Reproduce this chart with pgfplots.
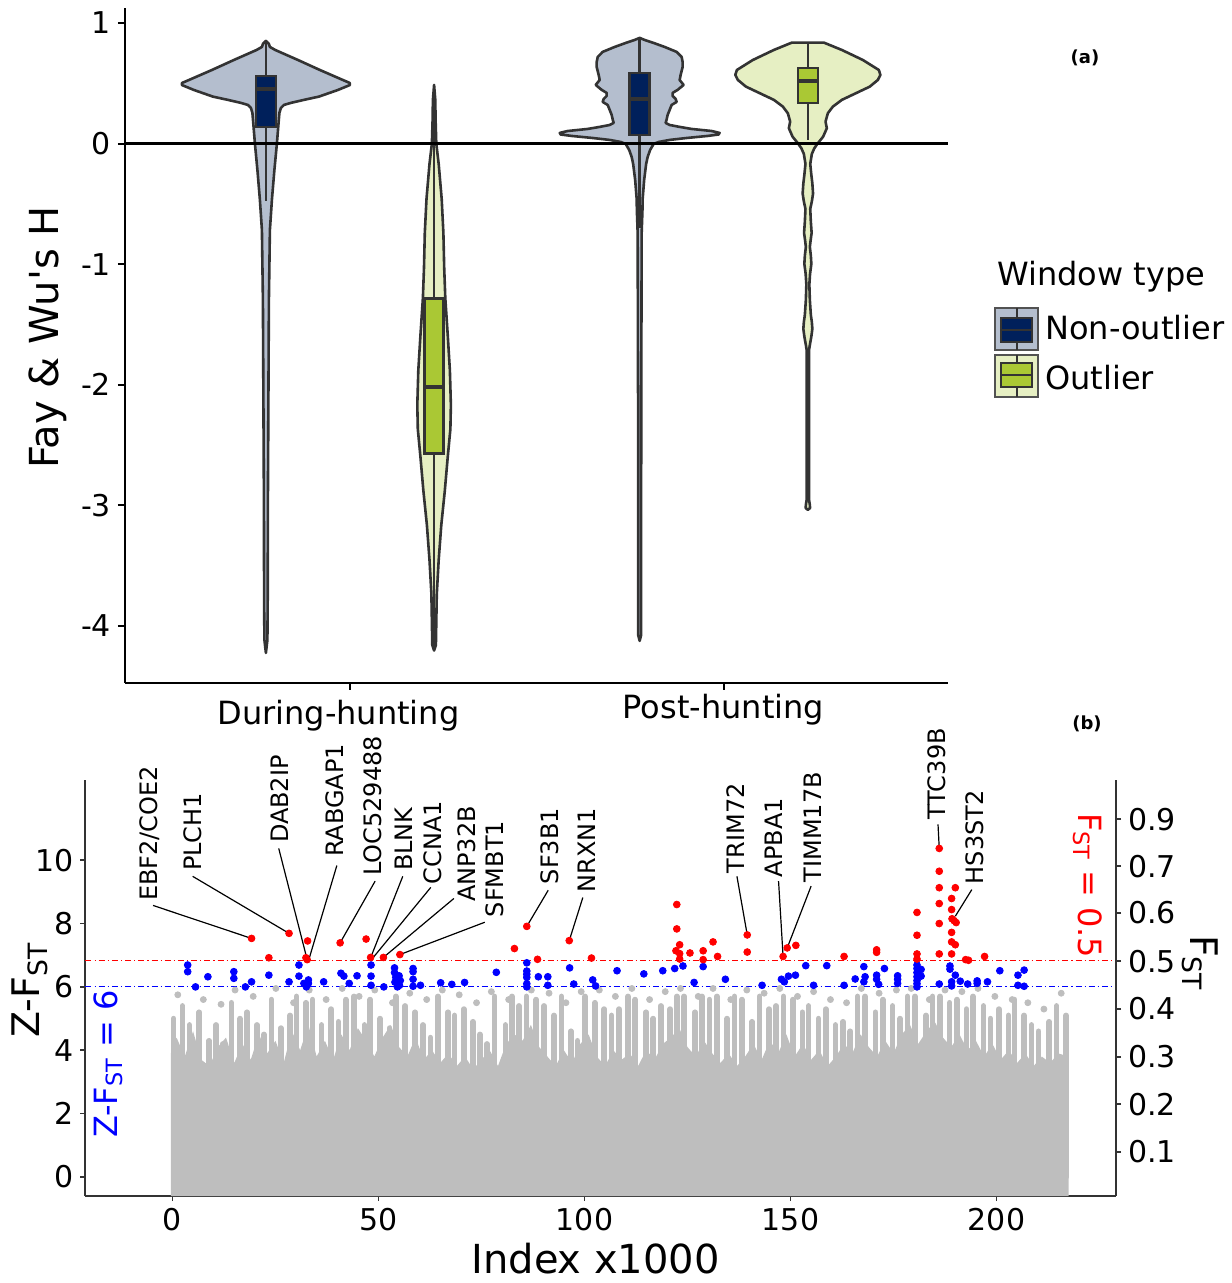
\documentclass[border=0pt]{standalone}
\usepackage{fontspec}
\setmainfont{DejaVu Sans}
\usepackage{pgfplots}
\usepackage{pgfplotstable}
\pgfplotsset{compat=1.18}
\definecolor{vN}{RGB}{180,190,206}
\definecolor{bN}{RGB}{0,32,91}
\definecolor{vO}{RGB}{230,239,195}
\definecolor{bO}{RGB}{170,200,52}
\definecolor{ol}{RGB}{51,51,51}
\definecolor{gr}{RGB}{190,190,190}
\newcommand{\tfont}{\fontsize{15}{18}\selectfont}
\newcommand{\gfont}{\fontsize{12}{14}\selectfont}

% violin outlines: y (data), w (half width in px, signed)
\pgfplotstableread{
y w
-4.224 0
-4.116 1.5
-3.785 1.8
-2.956 2
-2.127 2.5
-1.298 3
-0.716 4
-0.468 6
-0.219 8.5
0.000 11
0.154 12.5
0.254 13.5
0.295 15
0.320 18
0.337 25
0.362 38
0.389 53
0.444 72
0.485 84
0.502 84
0.527 77
0.610 54
0.693 32
0.776 9.3
0.801 4
0.826 3
0.851 0
0.826 -3
0.801 -4
0.776 -9.3
0.693 -32
0.610 -54
0.527 -77
0.502 -84
0.485 -84
0.444 -72
0.389 -53
0.362 -38
0.337 -25
0.320 -18
0.295 -15
0.254 -13.5
0.154 -12.5
0.000 -11
-0.219 -8.5
-0.468 -6
-0.716 -4
-1.298 -3
-2.127 -2.5
-2.956 -2
-3.785 -1.8
-4.116 -1.5
}\vA
\pgfplotstableread{
y w
-4.204 0
-4.158 1.8
-4.017 2.1
-3.735 2.7
-3.453 4.6
-3.163 7.2
-2.881 10.7
-2.595 13.7
-2.367 16.3
-2.168 16.8
-1.881 15.8
-1.595 13.7
-1.280 11.2
-1.027 10.1
-0.741 9.3
-0.459 7.6
-0.169 4.6
0.000 2.2
0.196 1.5
0.361 1.2
0.486 0
0.361 -1.2
0.196 -1.5
0.000 -2.2
-0.169 -4.6
-0.459 -7.6
-0.741 -9.3
-1.027 -10.1
-1.280 -11.2
-1.595 -13.7
-1.881 -15.8
-2.168 -16.8
-2.367 -16.3
-2.595 -13.7
-2.881 -10.7
-3.163 -7.2
-3.453 -4.6
-3.735 -2.7
-4.017 -2.1
-4.158 -1.8
}\vB
\pgfplotstableread{
y w
-4.124 0
-4.075 1.5
-2.956 1.5
-2.127 1.6
-0.741 2
-0.551 2.8
-0.459 3
-0.302 4.5
-0.169 6.5
-0.111 8
-0.053 10.5
-0.003 14
0.013 19
0.030 30
0.046 47
0.063 68
0.075 79
0.088 80
0.104 72
0.121 52
0.138 40
0.154 30
0.171 26
0.200 27
0.237 28
0.279 30
0.320 32
0.345 37
0.370 36
0.395 33
0.420 33
0.445 38
0.486 44
0.527 40
0.569 41
0.635 43
0.676 43
0.718 42
0.760 37
0.801 25
0.834 14
0.859 5
0.876 0
0.859 -5
0.834 -14
0.801 -25
0.760 -37
0.718 -42
0.676 -43
0.635 -43
0.569 -41
0.527 -40
0.486 -44
0.445 -38
0.420 -33
0.395 -33
0.370 -36
0.345 -37
0.320 -32
0.279 -30
0.237 -28
0.200 -27
0.171 -26
0.154 -30
0.138 -40
0.121 -52
0.104 -72
0.088 -80
0.075 -79
0.063 -68
0.046 -47
0.030 -30
0.013 -19
-0.003 -14
-0.053 -10.5
-0.111 -8
-0.169 -6.5
-0.302 -4.5
-0.459 -3
-0.551 -2.8
-0.741 -2
-2.127 -1.6
-2.956 -1.5
-4.075 -1.5
}\vC
\pgfplotstableread{
y w
-3.038 0
-3.022 2.2
-2.997 2
-2.955 1.2
-1.711 1.2
-1.670 2
-1.600 3.5
-1.537 4.5
-1.480 4
-1.421 3
-1.297 2
-1.169 1.5
-1.080 2.2
-0.998 3.5
-0.930 3
-0.857 2
-0.800 2.8
-0.741 3.8
-0.650 3
-0.542 2.4
-0.480 4
-0.415 5.2
-0.330 4.5
-0.260 3.5
-0.169 2.4
-0.086 4
-0.039 6.5
-0.003 9.5
0.057 15.3
0.127 19
0.182 17.7
0.251 20
0.306 25
0.362 34
0.417 48
0.472 62
0.527 70
0.569 72.6
0.610 71
0.693 55
0.776 34
0.837 16
0.837 -16
0.776 -34
0.693 -55
0.610 -71
0.569 -72.6
0.527 -70
0.472 -62
0.417 -48
0.362 -34
0.306 -25
0.251 -20
0.182 -17.7
0.127 -19
0.057 -15.3
-0.003 -9.5
-0.039 -6.5
-0.086 -4
-0.169 -2.4
-0.260 -3.5
-0.330 -4.5
-0.415 -5.2
-0.480 -4
-0.542 -2.4
-0.650 -3
-0.741 -3.8
-0.800 -2.8
-0.857 -2
-0.930 -3
-0.998 -3.5
-1.080 -2.2
-1.169 -1.5
-1.297 -2
-1.421 -3
-1.480 -4
-1.537 -4.5
-1.600 -3.5
-1.670 -2
-1.711 -1.2
-2.955 -1.2
-2.997 -2
-3.022 -2.2
}\vD

% panel b data
\pgfplotstableread{
x z
-0.4 -0.6
-0.4 3.9
1 4.4
3 3.8
5 4.6
7 3.7
9 3.5
11 4.1
13 4.4
15 3.6
17 4.2
19 3.7
21 4.5
23 3.9
25 4.3
27 3.6
29 4.6
31 4.0
33 4.8
35 3.8
37 4.3
39 3.7
41 4.5
43 4.0
45 4.7
47 4.3
49 3.8
51 4.4
53 4.8
55 4.1
57 3.8
59 4.4
61 3.7
63 4.0
65 3.6
67 3.9
69 3.5
71 3.8
73 3.4
75 3.7
77 4.0
79 3.5
81 4.2
83 4.5
85 4.3
87 4.8
89 4.1
91 3.8
93 3.5
95 4.0
97 3.6
99 4.2
101 4.5
103 3.8
105 3.5
107 4.0
109 3.7
111 3.9
113 3.5
115 4.0
117 3.7
119 4.2
121 4.4
123 4.7
125 4.1
127 3.8
129 4.3
131 3.9
133 3.6
135 3.9
137 3.5
139 3.8
141 4.2
143 3.7
145 4.3
147 3.9
149 4.5
151 3.8
153 4.2
155 3.7
157 4.0
159 3.5
161 3.8
163 4.2
165 3.9
167 4.5
169 4.1
171 3.8
173 4.3
175 3.9
177 4.5
179 4.8
181 4.2
183 4.6
185 4.9
187 4.4
189 4.1
191 4.5
193 4.0
195 4.3
197 3.8
199 4.2
201 3.7
203 4.0
205 3.6
207 3.9
209 3.5
211 3.8
213 3.6
215 3.9
217.5 3.8
217.5 -0.6
}\solid
\pgfplotstableread{
x z
0.3 5.0
2.4 5.4
4.1 4.8
6.5 5.2
8.9 4.3
10.6 4.8
12.2 4.2
14.3 5.5
16.4 5.0
18.1 5.2
20.5 4.8
22.2 4.5
24.0 5.6
26.3 4.7
28.6 5.1
30.1 5.7
32.4 5.5
34.0 5.6
36.2 4.8
38.5 5.3
40.3 4.9
42.1 5.6
44.0 5.7
46.6 4.8
48.0 5.6
50.4 5.0
52.7 4.7
54.2 5.7
56.5 5.4
58.9 5.2
60.8 4.8
62.6 4.4
64.4 5.7
66.9 5.2
68.5 5.1
70.7 5.3
72.9 4.9
74.6 4.5
76.3 4.2
78.2 5.7
80.8 4.8
82.4 5.7
84.1 5.4
85.9 5.7
88.3 5.6
90.2 5.4
92.6 5.1
94.4 5.7
96.7 4.6
98.3 4.3
100.1 5.7
102.5 5.5
104.8 5.3
106.6 5.1
108.4 5.3
110.6 5.7
112.3 5.6
114.9 5.2
116.7 5.0
118.5 5.4
120.8 5.3
122.4 5.7
124.2 5.7
126.8 5.2
128.5 5.7
130.3 5.6
132.1 5.7
134.6 5.0
136.4 5.7
138.2 5.6
140.7 4.9
142.5 5.7
144.8 5.3
146.5 5.4
148.3 5.7
150.6 5.6
152.9 5.2
154.4 5.4
156.8 5.0
158.6 5.3
160.9 4.8
162.7 4.9
164.5 4.6
166.3 5.7
168.1 5.7
170.6 5.2
172.4 5.6
174.8 5.4
176.6 5.0
178.4 5.7
180.2 5.7
182.9 5.1
184.5 5.7
186.3 5.7
188.6 5.5
190.4 5.6
192.7 5.3
194.3 5.7
196.8 5.4
198.5 5.0
200.6 5.3
202.9 5.1
204.4 5.6
206.7 5.1
208.5 4.8
210.2 4.6
212.8 4.9
214.6 5.4
216.9 5.1
}\cols
\pgfplotstableread{
x z
1.3 5.75
7.5 5.60
11.8 5.45
15.2 5.90
19.6 5.70
25.1 5.95
29.4 5.50
33.2 5.90
37.3 5.60
41.2 5.95
45.3 5.70
49.1 5.90
53.4 5.50
57.6 5.80
61.7 5.60
65.5 5.90
69.6 5.75
73.8 5.50
77.4 5.85
81.6 5.60
87.1 5.90
91.4 5.80
95.5 5.50
99.2 5.85
103.6 5.90
107.5 5.70
111.5 5.95
115.8 5.60
119.6 5.85
123.3 5.95
127.6 5.70
131.2 5.95
135.5 5.60
139.4 5.90
143.6 5.80
147.4 5.95
151.7 5.70
155.6 5.85
159.7 5.60
163.6 5.50
167.2 5.95
171.5 5.80
175.7 5.90
179.3 5.95
183.7 5.60
187.5 5.90
191.6 5.85
195.5 5.95
199.6 5.70
203.8 5.60
207.6 5.50
211.5 5.30
215.7 5.80
}\gdots
\pgfplotstableread{
x z
3.7 6.69
3.7 6.48
5.6 6.00
8.6 6.32
14.9 6.48
14.9 6.27
17.7 6.00
19.2 6.16
23.4 6.37
28.3 6.16
30.7 6.69
30.7 6.34
31.9 6.11
32.5 6.00
33.0 6.22
33.0 6.11
36.7 6.16
40.9 6.43
41.6 6.34
42.9 6.11
44.8 6.35
48.2 6.69
48.2 6.34
48.2 6.05
51.3 6.00
53.9 6.60
53.9 6.45
54.2 6.30
54.5 6.20
54.8 6.10
55.1 6.05
55.3 6.20
54.6 6.00
55.0 6.35
54.0 6.15
58.4 6.58
58.4 6.48
58.4 6.24
58.4 6.02
60.2 6.05
65.1 6.13
67.8 6.08
70.9 6.14
78.6 6.46
86.0 6.76
86.0 6.50
86.0 6.40
86.0 6.30
86.0 6.10
86.0 6.00
88.8 6.32
91.1 6.32
91.1 6.05
96.4 6.60
97.4 6.09
102.0 6.22
102.7 6.03
107.9 6.51
114.4 6.41
119.0 6.51
121.9 6.58
123.9 6.66
126.6 6.14
128.8 6.64
134.2 6.24
143.1 6.05
147.8 6.24
148.5 6.16
149.5 6.34
151.2 6.37
153.7 6.67
155.6 6.05
158.8 6.67
163.0 6.05
165.7 6.25
167.8 6.64
167.8 6.16
168.1 6.32
170.9 6.37
170.9 6.24
171.4 6.08
172.8 6.58
176.0 6.35
176.0 6.24
176.0 6.11
180.7 6.69
180.7 6.58
180.7 6.45
180.7 6.32
180.7 6.20
180.7 6.10
180.7 6.00
181.7 6.55
181.7 6.34
186.1 6.09
188.7 6.66
188.7 6.56
189.1 6.16
189.1 6.03
190.0 6.37
191.2 6.18
193.0 6.09
195.3 6.19
195.3 6.11
197.8 6.16
200.8 6.51
205.2 6.37
205.2 6.05
206.7 6.53
206.7 6.02
}\blue
\pgfplotstableread{
x z
19.2 7.53
28.3 7.69
32.8 7.45
23.4 6.92
32.7 6.86
32.4 6.92
40.7 7.39
47.0 7.51
48.1 6.93
51.2 6.93
55.2 7.02
83.0 7.21
86.0 7.91
88.6 6.87
96.3 7.46
101.7 6.91
122.4 8.60
122.4 7.83
123.1 7.33
122.2 7.14
123.1 7.05
123.1 6.88
125.6 7.07
128.8 7.14
128.8 6.86
131.2 7.42
132.3 6.96
139.5 7.64
139.5 7.10
148.2 6.96
149.2 7.23
151.3 7.31
163.0 6.96
170.9 7.17
170.9 7.09
180.7 8.35
180.7 7.63
180.7 7.04
180.7 6.88
186.1 10.37
186.1 9.65
186.1 9.13
186.1 8.63
186.1 8.00
186.1 7.04
190.0 9.13
189.1 8.79
189.1 8.44
189.2 8.15
189.7 8.09
190.2 8.03
189.1 7.72
189.1 7.42
190.0 7.33
189.1 7.04
192.5 6.86
193.2 6.84
197.1 6.96
}\red

\begin{document}
\begin{tikzpicture}
\path[use as bounding box] (0,0) rectangle (615.5pt,641.5pt);

%================ panel (a)
\begin{axis}[
  at={(62.5pt,300pt)}, anchor=south west, scale only axis,
  width=411.5pt, height=337.5pt,
  xmin=0.398, xmax=2.6, ymin=-4.473, ymax=1.124,
  axis x line*=bottom, axis y line*=left,
  axis line style={-, black, line width=1.2pt},
  xtick={1,2}, xticklabels={}, ytick={-4,-3,-2,-1,0,1},
  tick align=outside, major tick length=3.5pt,
  tick style={black, line width=1pt},
  yticklabel style={font=\tfont},
  /pgf/number format/assume math mode=true,
  clip=false,
  ylabel={Fay \& Wu\textquotesingle s H},
  ylabel style={font=\fontsize{20}{24}\selectfont, at={(axis description cs:-0.0936,0.512)}, anchor=center},
]
% violins
\addplot[draw=ol, line width=1.3pt, line join=round, fill=vN] table[x expr={0.775+\thisrow{w}/374}, y=y] {\vA} -- cycle;
\addplot[draw=ol, line width=1.3pt, line join=round, fill=vO] table[x expr={1.225+\thisrow{w}/374}, y=y] {\vB} -- cycle;
\addplot[draw=ol, line width=1.3pt, line join=round, fill=vN] table[x expr={1.775+\thisrow{w}/374}, y=y] {\vC} -- cycle;
\addplot[draw=ol, line width=1.3pt, line join=round, fill=vO] table[x expr={2.225+\thisrow{w}/374}, y=y] {\vD} -- cycle;
% whiskers
\addplot[draw=ol, line width=1.3pt] coordinates {(0.775,0.561) (0.775,0.851)};
\addplot[draw=ol, line width=1.3pt] coordinates {(0.775,0.138) (0.775,-0.476)};
\addplot[draw=ol, line width=1.3pt] coordinates {(1.225,-1.284) (1.225,0.486)};
\addplot[draw=ol, line width=1.3pt] coordinates {(1.225,-2.571) (1.225,-4.204)};
\addplot[draw=ol, line width=1.3pt] coordinates {(1.775,0.585) (1.775,0.876)};
\addplot[draw=ol, line width=1.3pt] coordinates {(1.775,0.071) (1.775,-0.70)};
\addplot[draw=ol, line width=1.3pt] coordinates {(2.225,0.627) (2.225,0.837)};
\addplot[draw=ol, line width=1.3pt] coordinates {(2.225,0.337) (2.225,0.03)};
% boxes
\addplot[draw=ol, line width=1.2pt, fill=bN] coordinates {(0.7483,0.138) (0.8017,0.138) (0.8017,0.561) (0.7483,0.561)} -- cycle;
\addplot[draw=ol, line width=1.2pt, fill=bO] coordinates {(1.1996,-2.571) (1.2504,-2.571) (1.2504,-1.284) (1.1996,-1.284)} -- cycle;
\addplot[draw=ol, line width=1.2pt, fill=bN] coordinates {(1.7483,0.071) (1.8017,0.071) (1.8017,0.585) (1.7483,0.585)} -- cycle;
\addplot[draw=ol, line width=1.2pt, fill=bO] coordinates {(2.1983,0.337) (2.2517,0.337) (2.2517,0.627) (2.1983,0.627)} -- cycle;
% medians
\addplot[draw=ol, line width=1.8pt] coordinates {(0.7483,0.453) (0.8017,0.453)};
\addplot[draw=ol, line width=1.8pt] coordinates {(1.1996,-2.018) (1.2504,-2.018)};
\addplot[draw=ol, line width=1.8pt] coordinates {(1.7483,0.368) (1.8017,0.368)};
\addplot[draw=ol, line width=1.8pt] coordinates {(2.1983,0.519) (2.2517,0.519)};
% zero line
\addplot[black, line width=1.3pt] coordinates {(0.398,0) (2.6,0)};
\node[font=\fontsize{16}{19}\selectfont] at (axis cs:0.969,-4.742) {During-hunting};
\node[font=\fontsize{16}{19}\selectfont] at (axis cs:1.999,-4.692) {Post-hunting};
\end{axis}

% legend (a)
\node[anchor=west, inner sep=0pt, font=\fontsize{16}{19}\selectfont] at (498.5pt,503pt) {Window type};
\draw[draw=ol!85, line width=1.3pt, fill=vN] (497.5pt,466.5pt) rectangle (519pt,487.5pt);
\draw[ol, line width=1pt] (508.25pt,466.5pt) -- (508.25pt,487.5pt);
\draw[draw=ol, line width=1pt, fill=bN] (500.5pt,470.5pt) rectangle (516pt,482.5pt);
\draw[ol, line width=1.3pt] (500.5pt,476.5pt) -- (516pt,476.5pt);
\draw[draw=ol!85, line width=1.3pt, fill=vO] (497.5pt,443pt) rectangle (519pt,464pt);
\draw[ol, line width=1pt] (508.25pt,443pt) -- (508.25pt,464pt);
\draw[draw=ol, line width=1pt, fill=bO] (500.5pt,448pt) rectangle (516pt,460pt);
\draw[ol, line width=1.3pt] (500.5pt,454pt) -- (516pt,454pt);
\node[anchor=west, inner sep=0pt, font=\fontsize{16}{19}\selectfont] at (522.5pt,477.5pt) {Non-outlier};
\node[anchor=west, inner sep=0pt, font=\fontsize{16}{19}\selectfont] at (522.5pt,452.5pt) {Outlier};
\node[font=\fontsize{9}{11}\selectfont\bfseries] at (542.5pt,612.5pt) {(a)};
\node[font=\fontsize{9}{11}\selectfont\bfseries] at (543.5pt,279.5pt) {(b)};

%================ panel (b)
\begin{axis}[
  at={(42.75pt,43.5pt)}, anchor=south west, scale only axis,
  width=515.25pt, height=208pt,
  xmin=-21.1, xmax=229, ymin=-0.6, ymax=12.53,
  axis x line*=bottom, axis y line*=left,
  axis line style={-, black!80, line width=1pt},
  xtick={0,50,100,150,200}, ytick={0,2,4,6,8,10},
  tick align=outside, major tick length=2.5pt,
  tick style={black!80, line width=0.8pt},
  ticklabel style={font=\tfont},
  /pgf/number format/assume math mode=true,
  clip=false,
]
\addplot[fill=gr, draw=none] table[x=x, y=z] {\solid} -- cycle;
\addplot[ycomb, draw=gr, line width=2.8pt, line cap=round, mark=none] table[x=x, y=z] {\cols};
\addplot[only marks, mark=*, mark size=1.5pt, gr, mark options={draw=gr, fill=gr}] table[x=x, y=z] {\gdots};
\addplot[only marks, mark=*, mark size=1.7pt, blue, mark options={draw=blue, fill=blue}] table[x=x, y=z] {\blue};
\addplot[only marks, mark=*, mark size=1.7pt, red, mark options={draw=red, fill=red}] table[x=x, y=z] {\red};
\addplot[red, line width=0.6pt, dash pattern=on 3pt off 1.5pt on 0.6pt off 1.5pt] coordinates {(-21.1,6.83) (229,6.83)};
\addplot[blue, line width=0.6pt, dash pattern=on 3pt off 1.5pt on 0.6pt off 1.5pt] coordinates {(-21.1,6.01) (229,6.01)};
% leader lines
\draw[black, line width=0.6pt] (axis cs:-4.7,8.57) -- (axis cs:19.2,7.53);
\draw[black, line width=0.6pt] (axis cs:4.9,9.49) -- (axis cs:28.3,7.69);
\draw[black, line width=0.6pt] (axis cs:25.8,10.37) -- (axis cs:32.7,6.86);
\draw[black, line width=0.6pt] (axis cs:39.9,9.83) -- (axis cs:33.1,6.86);
\draw[black, line width=0.6pt] (axis cs:49.2,9.34) -- (axis cs:40.7,7.39);
\draw[black, line width=0.6pt] (axis cs:55.9,9.49) -- (axis cs:48.1,6.92);
\draw[black, line width=0.6pt] (axis cs:62.7,9.14) -- (axis cs:48.3,6.86);
\draw[black, line width=0.6pt] (axis cs:68.3,8.79) -- (axis cs:51.2,6.93);
\draw[black, line width=0.6pt] (axis cs:75.8,8.04) -- (axis cs:55.2,7.02);
\draw[black, line width=0.6pt] (axis cs:91.2,9.05) -- (axis cs:86.0,7.91);
\draw[black, line width=0.6pt] (axis cs:99.6,8.82) -- (axis cs:96.3,7.46);
\draw[black, line width=0.6pt] (axis cs:137.0,9.49) -- (axis cs:139.5,7.64);
\draw[black, line width=0.6pt] (axis cs:147.1,9.34) -- (axis cs:148.2,6.96);
\draw[black, line width=0.6pt] (axis cs:155.0,9.18) -- (axis cs:149.2,7.23);
\draw[black, line width=0.6pt] (axis cs:185.8,11.13) -- (axis cs:186.1,10.37);
\draw[black, line width=0.6pt] (axis cs:194.0,9.07) -- (axis cs:190.0,8.23);
% gene labels
\begin{scope}[every node/.style={rotate=90, anchor=west, inner sep=0pt, font=\gfont}]
\node at (axis cs:-5.5,8.70) {EBF2/COE2};
\node at (axis cs:5.0,9.65) {PLCH1};
\node at (axis cs:26.1,10.53) {DAB2IP};
\node at (axis cs:39.4,10.09) {RABGAP1};
\node at (axis cs:48.7,9.49) {LOC529488};
\node at (axis cs:56.2,9.65) {BLNK};
\node at (axis cs:63.2,9.23) {CCNA1};
\node at (axis cs:71.4,8.67) {ANP32B};
\node at (axis cs:78.3,8.19) {SFMBT1};
\node at (axis cs:91.6,9.23) {SF3B1};
\node at (axis cs:100.5,8.98) {NRXN1};
\node at (axis cs:136.7,9.58) {TRIM72};
\node at (axis cs:146.0,9.45) {APBA1};
\node at (axis cs:155.4,9.29) {TIMM17B};
\node at (axis cs:185.5,11.27) {TTC39B};
\node at (axis cs:194.7,9.23) {HS3ST2};
\end{scope}
\node[rotate=90, anchor=west, inner sep=0pt, blue, font=\fontsize{16}{19}\selectfont] at (axis cs:-15.65,1.22) {Z-F\textsubscript{ST} = 6};
\node[rotate=-90, anchor=west, inner sep=0pt, red, font=\fontsize{16}{19}\selectfont] at (axis cs:222.2,11.5) {F\textsubscript{ST} = 0.5};
\node[rotate=90, font=\fontsize{19}{23}\selectfont] at (axis description cs:-0.054,0.495) {Z-F\textsubscript{ST}};
\node[rotate=-90, font=\fontsize{19}{23}\selectfont] at (axis description cs:1.0815,0.56) {F\textsubscript{ST}};
\node[font=\fontsize{20}{24}\selectfont, inner sep=0pt] at (axis description cs:0.495,-0.151) {Index x1000};
\end{axis}

\begin{axis}[
  at={(42.75pt,43.5pt)}, anchor=south west, scale only axis,
  width=515.25pt, height=208pt,
  xmin=-21.1, xmax=229, ymin=-0.6, ymax=12.53,
  axis x line=none, axis y line*=right,
  axis line style={-, black!80, line width=1pt},
  ytick={0.79,2.30,3.79,5.30,6.81,8.34,9.81,11.29},
  yticklabels={0.1,0.2,0.3,0.4,0.5,0.6,0.7,0.9},
  tick align=outside, major tick length=2.5pt,
  tick style={black!80, line width=0.8pt},
  ticklabel style={font=\tfont},
]
\addplot[draw=none] coordinates {(0,0)};
\end{axis}
\end{tikzpicture}
\end{document}
